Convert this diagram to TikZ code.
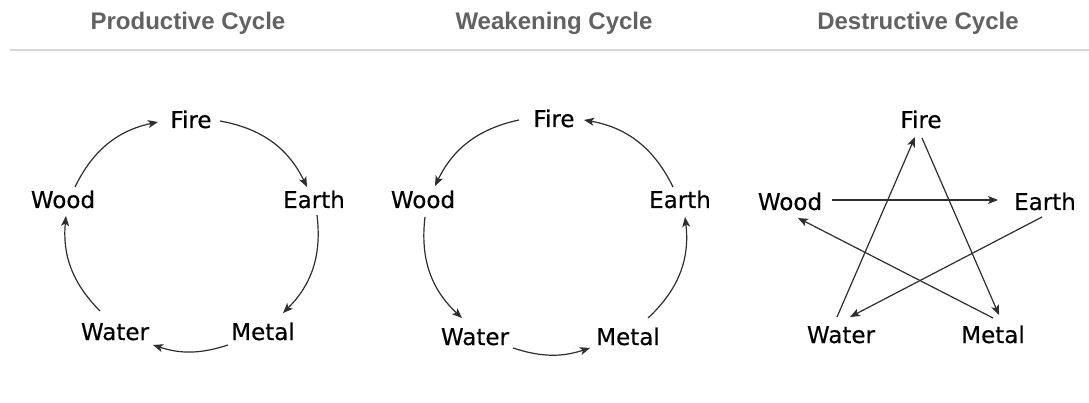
\documentclass[tikz,border=0pt]{standalone}
\usepackage{fontspec}
\usepackage{xcolor, tikz}
\usetikzlibrary{calc,arrows.meta}
\newfontfamily\elemfont[FakeBold=0.4]{DejaVu Sans}
\newfontfamily\headfont{Liberation Sans}
\definecolor{headgray}{HTML}{626262}
\definecolor{rulegray}{HTML}{D6D6D6}
\definecolor{arrowgray}{HTML}{2E2E2E}
\tikzstyle{element} = [font=\elemfont\fontsize{23}{27}\selectfont, inner sep=0pt, anchor=base, text=black]
\tikzstyle{cycletitle} = [font=\headfont\bfseries\fontsize{24}{28}\selectfont, inner sep=0pt, anchor=base, text=headgray]
\tikzstyle{arrow} = [line width=1.2pt, draw=arrowgray, -{Stealth[length=10pt,width=8pt,inset=2.5pt]}]

\begin{document}
\begin{tikzpicture}[x=1pt, y=-1pt]
    \useasboundingbox[fill=white] (0,0) rectangle (1089,403);

    % titles
    \node (t1)[cycletitle] at (188,30) {Productive Cycle};
    \node (t2)[cycletitle] at (554,30) {Weakening Cycle};
    \node (t3)[cycletitle] at (918,30) {Destructive Cycle};
    \draw[rulegray, line width=2pt] (10,50) -- (1089,50);

    % productive cycle
    \node (fire1)[element] at (191,128) {Fire};
    \node (wood1)[element] at (63,208) {Wood};
    \node (earth1)[element] at (314,208) {Earth};
    \node (water1)[element] at (115,340) {Water};
    \node (metal1)[element] at (263,340) {Metal};
    \draw [arrow]($(wood1.base)+(12,-21)$) to[bend left=26] ($(fire1.base)+(-33,-6)$);
    \draw [arrow]($(fire1.base)+(29,-7)$) to[bend left=27] ($(earth1.base)+(-7,-21)$);
    \draw [arrow]($(earth1.base)+(3,7)$) to[bend left=26] ($(metal1.base)+(20,-27)$);
    \draw [arrow]($(metal1.base)+(-35,5)$) to[bend left=18] ($(water1.base)+(38,5)$);
    \draw [arrow]($(water1.base)+(-15,-29)$) to[bend left=25] ($(wood1.base)+(3,8)$);

    % weakening cycle
    \node (fire2)[element] at (554,127) {Fire};
    \node (wood2)[element] at (423,208) {Wood};
    \node (earth2)[element] at (680,208) {Earth};
    \node (water2)[element] at (475,345) {Water};
    \node (metal2)[element] at (628,345) {Metal};
    \draw [arrow]($(fire2.base)+(-35,-7)$) to[bend right=26] ($(wood2.base)+(12,-22)$);
    \draw [arrow]($(wood2.base)+(2,9)$) to[bend right=27] ($(water2.base)+(-13,-27)$);
    \draw [arrow]($(water2.base)+(38,3)$) to[bend right=18] ($(metal2.base)+(-38,3)$);
    \draw [arrow]($(metal2.base)+(20,-27)$) to[bend right=27] ($(earth2.base)+(5,9)$);
    \draw [arrow]($(earth2.base)+(-7,-21)$) to[bend right=27] ($(fire2.base)+(30,-7)$);

    % destructive cycle
    \node (fire3)[element] at (921,128) {Fire};
    \node (wood3)[element] at (790,210) {Wood};
    \node (earth3)[element] at (1045,210) {Earth};
    \node (water3)[element] at (841,343) {Water};
    \node (metal3)[element] at (993,343) {Metal};
    \draw [arrow]($(wood3.base)+(42,-10)$) -- ($(earth3.base)+(-47,-10)$);
    \draw [arrow]($(earth3.base)+(-3,7)$) -- ($(water3.base)+(9,-26)$);
    \draw [arrow]($(water3.base)+(-4,-26)$) -- ($(fire3.base)+(-6,9)$);
    \draw [arrow]($(fire3.base)+(1,10)$) -- ($(metal3.base)+(6,-28)$);
    \draw [arrow]($(metal3.base)+(0,-25)$) -- ($(wood3.base)+(8,8)$);

  \end{tikzpicture}
\end{document}
